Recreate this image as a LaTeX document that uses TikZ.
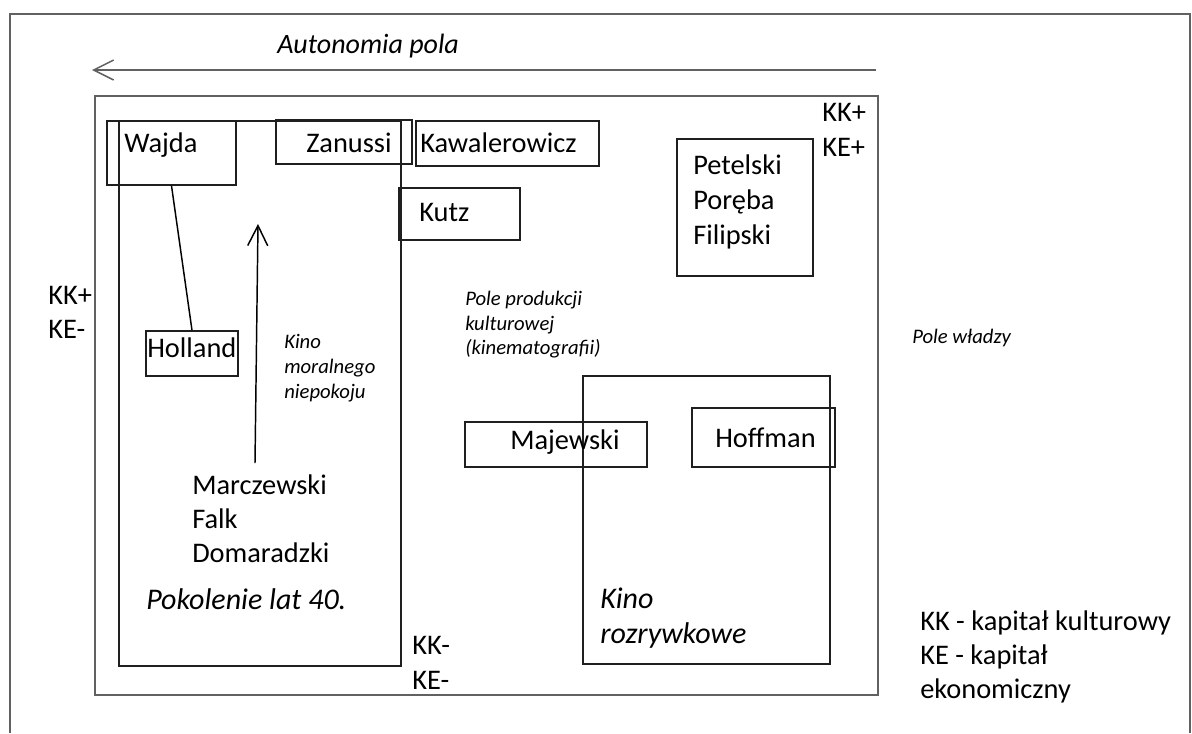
\documentclass[tikz,border=0pt]{standalone}
\usepackage{fontspec}
\setmainfont{Carlito}
\usetikzlibrary{arrows.meta,fit}
\begin{document}
\begin{tikzpicture}[x=0.75pt,y=-0.75pt,
  frame/.style={draw=black!62, line width=1.5pt},
  box/.style={draw=black!88, line width=1.1pt, inner sep=0pt},
  lbl/.style={anchor=base west, inner sep=0pt, font=\fontsize{21.3}{25}\selectfont},
  ilbl/.style={lbl, font=\fontsize{22.5}{26}\selectfont\itshape},
  note/.style={anchor=base west, inner sep=0pt, font=\fontsize{15.5}{18}\selectfont\itshape},
  barb/.style={-{Straight Barb[length=15pt,width=15pt,line width=1.1pt]}}
]
\useasboundingbox (0,0) rectangle (1192,733);

% outer field of power (open at the bottom)
\draw[frame] (10,733) -- (10,14) -- (1190,14) -- (1190,733);

% autonomy arrow
\coordinate (autR) at (876,70);
\coordinate (autL) at (92,70);
\draw[frame, barb] (autR) -- (autL);
\node[lbl, font=\fontsize{21}{24}\selectfont\itshape] (aut) at (277,53) {Autonomia pola};

% field of cultural production
\node[frame, inner sep=0pt, fit={(95,96) (878,695)}] (field) {};

% generation of the 40s
\node[box, fit={(119,121) (401,666)}] (gen40) {};
% entertainment cinema
\node[box, fit={(583,376) (830,664)}] (rozr) {};

% directors' boxes
\node[box, fit={(107,121) (236,185)}] (wajda) {};
\node[box, fit={(276,120) (412,164)}] (zanussi) {};
\node[box, fit={(416,121) (599,166)}] (kawal) {};
\node[box, fit={(399,188) (520,240)}] (kutz) {};
\node[box, fit={(677,139) (813,276)}] (petelski) {};
\node[box, fit={(146,331) (238,376)}] (holland) {};
\node[box, fit={(465,422) (647,467)}] (majewski) {};
\node[box, fit={(692,408) (835,467)}] (hoffman) {};

\node[lbl] at (124,152) {Wajda};
\node[lbl] at (306,152) {Zanussi};
\node[lbl] at (420,152) {Kawalerowicz};
\node[lbl] at (419,221) {Kutz};
\node[lbl] at (693,174) {Petelski};
\node[lbl] at (693,209) {Poręba};
\node[lbl] at (693,244) {Filipski};
\node[lbl] at (147,357) {Holland};
\node[lbl] at (510,449) {Majewski};
\node[lbl] at (715,447) {Hoffman};

% Wajda -- Holland link
\draw[line width=1.1pt] (wajda.south) -- (holland.north);

% moral anxiety cinema arrow
\coordinate (mnB) at (255,463);
\coordinate (mnT) at (258,224);
\draw[line width=1.1pt, barb] (mnB) -- (mnT);
\node[note] at (284,348) {Kino};
\node[note] at (284,373) {moralnego};
\node[note] at (284,398) {niepokoju};

\node[lbl] at (192,494) {Marczewski};
\node[lbl] at (192,528) {Falk};
\node[lbl] at (192,562) {Domaradzki};
\node[ilbl] at (146,609) {Pokolenie lat 40.};

\node[ilbl] at (600,608) {Kino};
\node[ilbl] at (600,643) {rozrywkowe};

% capital markers
\node[lbl] at (822,121) {KK+};
\node[lbl] at (822,156) {KE+};
\node[lbl] at (48,304) {KK+};
\node[lbl] at (48,338) {KE-};
\node[lbl] at (412,654) {KK-};
\node[lbl] at (412,689) {KE-};

% field labels
\node[note] at (465,305) {Pole produkcji};
\node[note] at (465,330) {kulturowej};
\node[note] at (465,354) {(kinematografii)};
\node[note] at (912,343) {Pole władzy};

% legend
\node[lbl] at (920,630) {KK - kapitał kulturowy};
\node[lbl] at (920,664) {KE - kapitał};
\node[lbl] at (920,698) {ekonomiczny};
\end{tikzpicture}
\end{document}
